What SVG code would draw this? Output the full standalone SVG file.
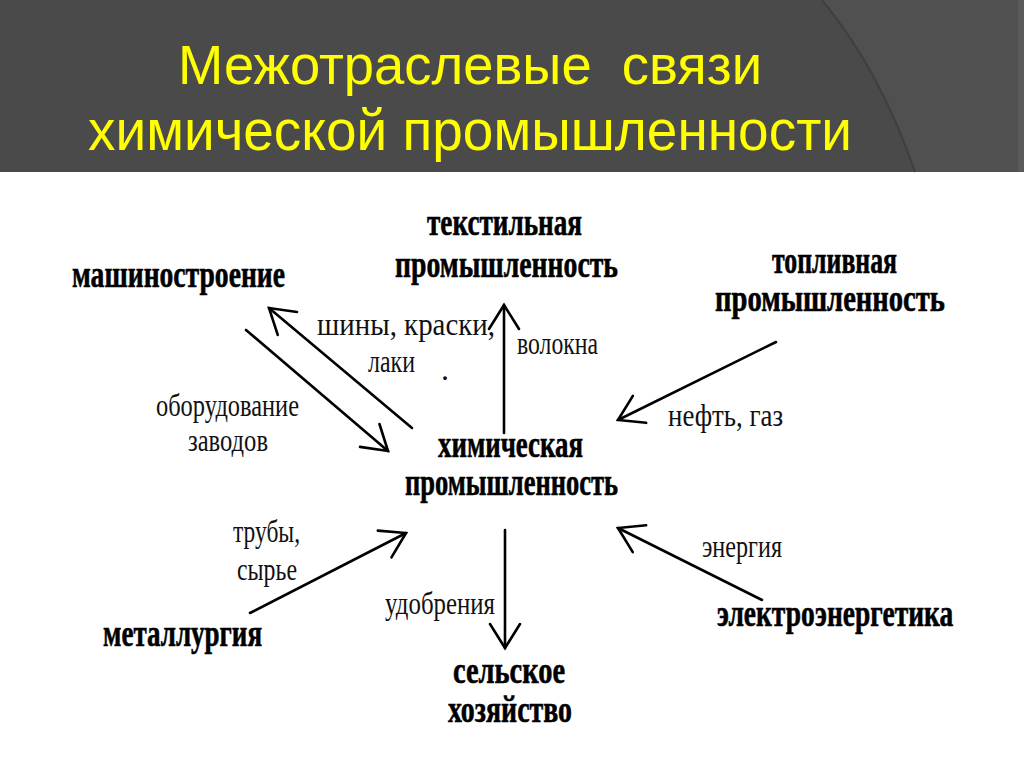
<svg xmlns="http://www.w3.org/2000/svg" width="1024" height="767" viewBox="0 0 1024 767">
  <defs>
    <style>
      .title { font-family: "Liberation Sans", Arial, sans-serif; fill: #ffff00; font-size: 56px; white-space: pre; }
      .node { font-family: "Liberation Serif", "Times New Roman", serif; font-weight: bold; font-size: 38px; fill: #000; stroke: #000; stroke-width: 0.6; }
      .lbl { font-family: "Liberation Serif", "Times New Roman", serif; font-size: 32px; fill: #111; }
      .conn { stroke: #000; stroke-width: 2.6; fill: none; stroke-linecap: round; }
    </style>
    <marker id="vh" markerUnits="userSpaceOnUse" markerWidth="40" markerHeight="40" refX="0" refY="0" viewBox="-30 -20 34 40" orient="auto">
      <path d="M -24 -15 L 0 0 L -24 15" fill="none" stroke="#000" stroke-width="2.6" stroke-linecap="round" stroke-linejoin="miter"/>
    </marker>
  </defs>

  <rect x="0" y="0" width="1024" height="767" fill="#ffffff"/>

  <g id="header">
    <rect x="0" y="0" width="1024" height="172" fill="#4a4a4a"/>
    <path d="M 822 0 Q 880 70 915 172 L 1024 172 L 1024 0 Z" fill="#505050"/>
    <path d="M 822 0 Q 880 70 915 172" fill="none" stroke="#3f3f3f" stroke-width="2"/>
    <rect x="1018" y="0" width="6" height="172" fill="#5a5a5a"/>
    <text class="title" xml:space="preserve" x="178" y="84" textLength="584" lengthAdjust="spacingAndGlyphs">Межотраслевые  связи</text>
    <text class="title" x="88" y="150" textLength="764" lengthAdjust="spacingAndGlyphs" style="font-size:58px">химической промышленности</text>
  </g>

  <g id="connectors">
    <line class="conn" x1="412" y1="428" x2="269" y2="308" marker-end="url(#vh)"/>
    <line class="conn" x1="246" y1="330" x2="388" y2="451" marker-end="url(#vh)"/>
    <line class="conn" x1="504" y1="433" x2="504" y2="305" marker-end="url(#vh)"/>
    <line class="conn" x1="776" y1="342" x2="618" y2="420" marker-end="url(#vh)"/>
    <line class="conn" x1="762" y1="600" x2="618" y2="528" marker-end="url(#vh)"/>
    <line class="conn" x1="250" y1="613" x2="406" y2="533" marker-end="url(#vh)"/>
    <line class="conn" x1="505" y1="530" x2="505" y2="648" marker-end="url(#vh)"/>
  </g>

  <g id="labels">
    <text class="lbl" x="317" y="335" textLength="178" lengthAdjust="spacingAndGlyphs">шины, краски,</text>
    <text class="lbl" x="368" y="372" textLength="47" lengthAdjust="spacingAndGlyphs">лаки</text>
    <text class="lbl" x="441" y="380">.</text>
    <text class="lbl" x="517" y="354" textLength="81" lengthAdjust="spacingAndGlyphs">волокна</text>
    <text class="lbl" x="156" y="416" textLength="143" lengthAdjust="spacingAndGlyphs">оборудование</text>
    <text class="lbl" x="188" y="451" textLength="80" lengthAdjust="spacingAndGlyphs">заводов</text>
    <text class="lbl" x="668" y="426" textLength="115" lengthAdjust="spacingAndGlyphs">нефть, газ</text>
    <text class="lbl" x="233" y="542" textLength="67" lengthAdjust="spacingAndGlyphs">трубы,</text>
    <text class="lbl" x="237" y="580" textLength="60" lengthAdjust="spacingAndGlyphs">сырье</text>
    <text class="lbl" x="385" y="614" textLength="110" lengthAdjust="spacingAndGlyphs">удобрения</text>
    <text class="lbl" x="702" y="557" textLength="80" lengthAdjust="spacingAndGlyphs">энергия</text>
  </g>

  <g id="node-mashinostroenie">
    <text class="node" x="72" y="287" textLength="213" lengthAdjust="spacingAndGlyphs">машиностроение</text>
  </g>
  <g id="node-textile">
    <text class="node" x="427" y="235" textLength="155" lengthAdjust="spacingAndGlyphs">текстильная</text>
    <text class="node" x="395" y="277" textLength="223" lengthAdjust="spacingAndGlyphs">промышленность</text>
  </g>
  <g id="node-fuel">
    <text class="node" x="772" y="273" textLength="125" lengthAdjust="spacingAndGlyphs">топливная</text>
    <text class="node" x="715" y="311" textLength="230" lengthAdjust="spacingAndGlyphs">промышленность</text>
  </g>
  <g id="node-chemical">
    <text class="node" x="438" y="457" textLength="145" lengthAdjust="spacingAndGlyphs">химическая</text>
    <text class="node" x="405" y="495" textLength="213" lengthAdjust="spacingAndGlyphs">промышленность</text>
  </g>
  <g id="node-metallurgy">
    <text class="node" x="103" y="646" textLength="159" lengthAdjust="spacingAndGlyphs">металлургия</text>
  </g>
  <g id="node-agriculture">
    <text class="node" x="453" y="683" textLength="112" lengthAdjust="spacingAndGlyphs">сельское</text>
    <text class="node" x="448" y="722" textLength="124" lengthAdjust="spacingAndGlyphs">хозяйство</text>
  </g>
  <g id="node-electro">
    <text class="node" transform="translate(717 626) scale(0.72 1)" x="0" y="0" textLength="328" lengthAdjust="spacingAndGlyphs">электроэнергетика</text>
  </g>
</svg>
